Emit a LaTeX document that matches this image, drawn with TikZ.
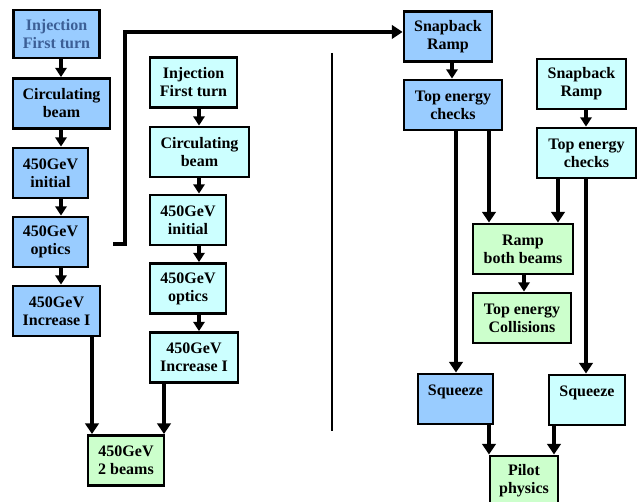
\documentclass[tikz,border=0pt]{standalone}
\usepackage{fontspec}
\setmainfont{Liberation Serif}
\usetikzlibrary{arrows.meta}
\definecolor{beamone}{RGB}{153,204,255}
\definecolor{beamtwo}{RGB}{204,255,255}
\definecolor{bothbeams}{RGB}{204,255,204}
\definecolor{dimtext}{RGB}{60,95,150}
\tikzset{
  stage/.style={draw, line width=2.1pt, align=center, inner sep=0pt,
      minimum height=37.5pt, font=\fontsize{12}{13.5}\selectfont\bfseries},
  one/.style={stage, fill=beamone},
  two/.style={stage, fill=beamtwo},
  both/.style={stage, fill=bothbeams},
  flow/.style={line width=2.8pt, -{Triangle[width=8.5pt,length=7pt]}},
  longflow/.style={line width=3.5pt, -{Triangle[width=10pt,length=8pt]}},
  divider/.style={line width=1.5pt},
}

\begin{document}
\begin{tikzpicture}[x=0.75pt, y=-0.75pt]
  \clip (0,0) rectangle (640,502);
  % beam 1, injection side
  \node[one, minimum width=65pt, minimum height=36pt, text=dimtext] (b1) at (56.5,34) {Injection\\First turn};
  \node[one, minimum width=72.75pt] (b2) at (61.5,103.5) {Circulating\\beam};
  \node[one, minimum width=56.25pt] (b3) at (50.5,173) {450GeV\\initial};
  \node[one, minimum width=56.25pt] (b4) at (50.5,242) {450GeV\\optics};
  \node[one, minimum width=65.25pt] (b5) at (56.5,311) {450GeV\\Increase I};
  % beam 2, injection side
  \node[two, minimum width=65.25pt] (c1) at (193.5,82.5) {Injection\\First turn};
  \node[two, minimum width=74.25pt] (c2) at (199.5,152) {Circulating\\beam};
  \node[two, minimum width=57pt] (c3) at (188,220) {450GeV\\initial};
  \node[two, minimum width=57pt] (c4) at (188,288.5) {450GeV\\optics};
  \node[two, minimum width=66pt] (c5) at (194,357.5) {450GeV\\Increase I};
  \node[both, minimum width=57pt] (g1) at (126,460.5) {450GeV\\2 beams};
  % top energy
  \node[one, minimum width=66pt] (rb1) at (448,36.5) {Snapback\\Ramp};
  \node[one, minimum width=73.5pt] (rb2) at (453,105) {Top energy\\checks};
  \node[two, minimum width=66.75pt] (rc1) at (581.5,84) {Snapback\\Ramp};
  \node[two, minimum width=74.25pt] (rc2) at (586.5,153) {Top energy\\checks};
  \node[both, minimum width=75pt] (g2) at (523,249) {Ramp\\both beams};
  \node[both, minimum width=73.5pt] (g3) at (522,318) {Top energy\\Collisions};
  \node[one, minimum width=56.25pt] (rb3) at (455.5,399) {Squeeze\\~};
  \node[two, minimum width=57pt] (rc3) at (587,400) {Squeeze\\~};
  \node[both, minimum width=51pt] (g4) at (524,481) {Pilot\\physics};

  \draw[divider] (332,53) -- (332,431);

  \foreach \a/\b in {b1/b2, b2/b3, b3/b4, b4/b5}
    \draw[flow] (\a.south -| 61,0) -- (\b.north -| 61,0);
  \foreach \a/\b in {c1/c2, c2/c3, c3/c4, c4/c5}
    \draw[flow] (\a.south -| 199,0) -- (\b.north -| 199,0);
  \draw[longflow] (b5.south -| 92,0) -- (g1.north -| 92,0);
  \draw[longflow] (c5.south -| 164,0) -- (g1.north -| 164,0);

  \coordinate (hop) at (113,244);
  \draw[longflow] (hop) -- (125,244) |- ([yshift=3.4pt]rb1.west);

  \draw[flow] (rb1.south -| 452,0) -- (rb2.north -| 452,0);
  \draw[flow] (rc1.south -| 586,0) -- (rc2.north -| 586,0);
  \draw[longflow] (rb2.south -| 456,0) -- (rb3.north -| 456,0);
  \draw[longflow] (rb2.south -| 489,0) -- (g2.north -| 489,0);
  \draw[longflow] (rc2.south -| 558,0) -- (g2.north -| 558,0);
  \draw[longflow] (rc2.south -| 586,0) -- (rc3.north -| 586,0);
  \draw[flow] (g2.south -| 524,0) -- (g3.north -| 524,0);
  \draw[longflow] (rb3.south -| 489,0) -- (g4.north -| 489,0);
  \draw[longflow] (rc3.south -| 554,0) -- (g4.north -| 554,0);
\end{tikzpicture}
\end{document}
